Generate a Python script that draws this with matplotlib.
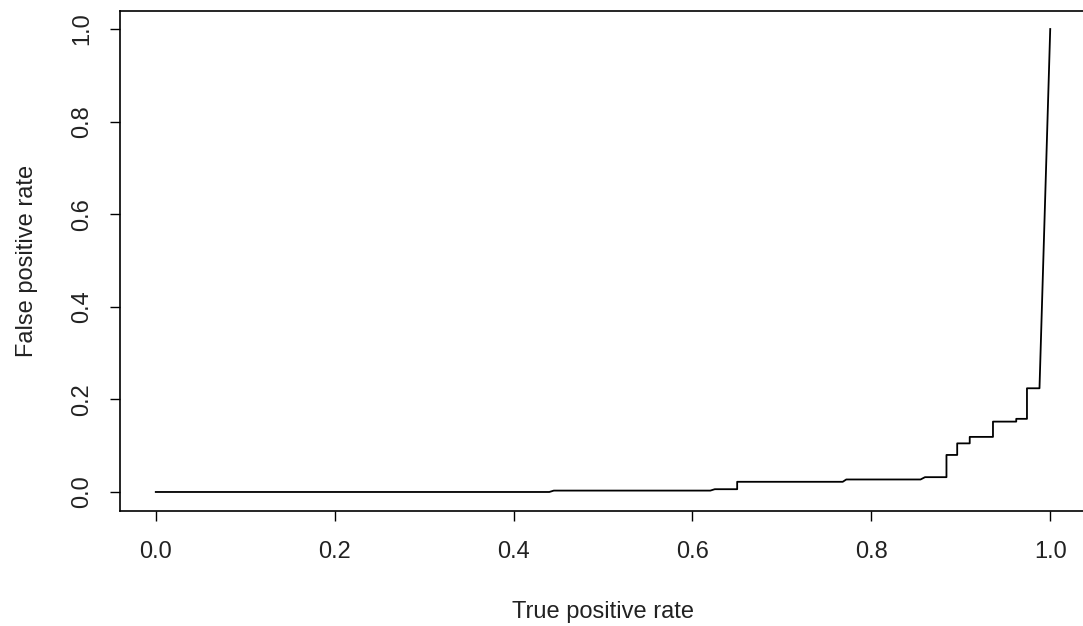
import numpy as np
import matplotlib
matplotlib.use('Agg')
import matplotlib.pyplot as plt

plt.rcParams['font.family'] = ['Liberation Sans', 'DejaVu Sans']

# ROC points (x = TPR, y = FPR as labelled in the original)
tpr = [0.0, 0.440, 0.445, 0.620, 0.625, 0.650, 0.650, 0.768, 0.772, 0.855,
       0.860, 0.884, 0.884, 0.896, 0.896, 0.910, 0.910, 0.936, 0.936, 0.962,
       0.962, 0.974, 0.974, 0.988, 1.0]
fpr = [0.0, 0.0, 0.003, 0.003, 0.006, 0.006, 0.022, 0.022, 0.027, 0.027,
       0.032, 0.032, 0.080, 0.080, 0.105, 0.105, 0.119, 0.119, 0.152, 0.152,
       0.158, 0.158, 0.224, 0.224, 1.0]
ticks = [0.0, 0.2, 0.4, 0.6, 0.8, 1.0]

W, H = 1083, 626
fig = plt.figure(figsize=(W / 100, H / 100), dpi=100)
# R-style box; right side runs off the image like in the original
left, right, top, bottom = 120, 1086, 10.5, 510.5
ax = fig.add_axes([left / W, 1 - bottom / H, (right - left) / W, (bottom - top) / H])

ax.plot(tpr, fpr, color='black', lw=1.3)
ax.set_xlim(-0.04, 1.04)
ax.set_ylim(-0.04, 1.04)
ax.set_xticks(ticks)
ax.set_yticks(ticks)
ax.set_xticklabels([f'{t:.1f}' for t in ticks])
ax.set_yticklabels([f'{t:.1f}' for t in ticks], rotation=90, va='center')
ax.tick_params(direction='out', length=7, width=1, labelsize=17, labelcolor='#222222')
ax.tick_params(axis='x', pad=15)
ax.tick_params(axis='y', pad=12)
for s in ax.spines.values():
    s.set_linewidth(1.2)

ax.set_xlabel('True positive rate', fontsize=17, labelpad=27, color='#222222')
ax.set_ylabel('False positive rate', fontsize=17, labelpad=24, color='#222222')

fig.savefig('out.png', dpi=100)
